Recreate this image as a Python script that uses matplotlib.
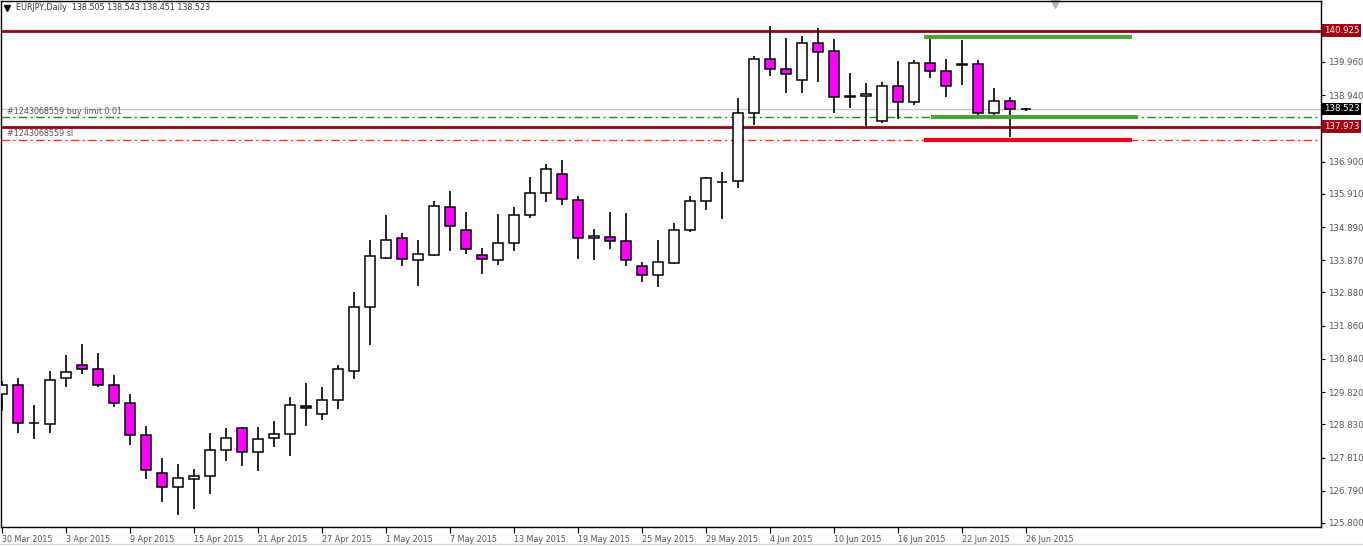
import numpy as np
import matplotlib
matplotlib.use('Agg')
import matplotlib.pyplot as plt
from matplotlib import transforms

# daily EURJPY candles, 30 Mar 2015 .. 26 Jun 2015
opens = [129.75, 130.03, 128.87, 128.83, 130.24, 130.64, 130.52, 130.03, 129.48, 128.49,
         127.33, 126.90, 127.14, 127.23, 128.03, 128.71, 127.97, 128.40, 128.52, 129.38,
         129.14, 129.57, 130.46, 132.43, 133.93, 134.54, 133.87, 134.02, 135.50, 134.79,
         134.02, 133.87, 134.39, 135.25, 135.93, 136.51, 135.71, 134.54, 134.58, 134.45,
         133.68, 133.41, 133.78, 134.79, 135.68, 136.27, 136.30, 138.38, 140.04, 139.73,
         139.40, 140.53, 140.29, 138.90, 138.91, 138.14, 139.21, 138.72, 139.92, 139.67,
         139.89, 139.89, 138.38, 138.75, 138.505]
highs = [130.16, 130.24, 129.42, 130.46, 130.95, 131.30, 131.01, 130.34, 129.76, 128.77,
         127.80, 127.61, 127.45, 128.56, 128.71, 128.74, 128.74, 128.92, 129.66, 130.09,
         129.97, 130.64, 132.89, 134.48, 135.25, 134.70, 134.48, 135.68, 135.99, 135.34,
         134.24, 135.28, 135.50, 136.42, 136.82, 136.94, 135.83, 134.82, 135.34, 135.31,
         133.81, 134.48, 135.00, 135.83, 136.42, 136.57, 138.85, 140.14, 141.06, 140.69,
         140.76, 140.99, 140.66, 139.61, 139.31, 139.34, 139.98, 140.01, 140.66, 140.04,
         140.63, 140.01, 139.15, 138.88, 138.543]
lows = [129.25, 128.57, 128.37, 128.57, 129.99, 130.39, 129.99, 129.37, 128.21, 127.16,
        126.45, 126.06, 126.24, 126.70, 127.71, 127.56, 127.41, 128.14, 127.85, 128.79,
        128.97, 129.31, 130.23, 131.28, 133.90, 133.68, 133.09, 133.99, 134.16, 134.05,
        133.46, 133.73, 134.16, 135.18, 135.67, 135.58, 133.92, 133.89, 134.21, 133.70,
        133.21, 133.06, 133.75, 134.73, 135.40, 135.13, 136.10, 138.02, 139.54, 139.02,
        139.02, 139.35, 138.40, 138.56, 137.99, 138.08, 138.22, 138.65, 139.48, 138.89,
        139.26, 138.20, 138.32, 137.65, 138.451]
closes = [130.03, 128.86, 128.86, 130.18, 130.43, 130.52, 130.03, 129.48, 128.49, 127.42,
          126.90, 127.17, 127.23, 128.03, 128.40, 127.97, 128.37, 128.52, 129.42, 129.32,
          129.57, 130.52, 132.43, 133.99, 134.48, 133.90, 134.05, 135.53, 134.91, 134.21,
          133.90, 134.39, 135.25, 135.93, 136.66, 135.74, 134.54, 134.61, 134.45, 133.87,
          133.41, 133.81, 134.79, 135.68, 136.39, 136.26, 138.38, 140.04, 139.73, 139.58,
          140.53, 140.28, 138.89, 138.88, 138.97, 139.21, 138.72, 139.92, 139.67, 139.21,
          139.87, 138.38, 138.75, 138.51, 138.523]

date_labels = ["30 Mar 2015", "3 Apr 2015", "9 Apr 2015", "15 Apr 2015", "21 Apr 2015",
               "27 Apr 2015", "1 May 2015", "7 May 2015", "13 May 2015", "19 May 2015",
               "25 May 2015", "29 May 2015", "4 Jun 2015", "10 Jun 2015", "16 Jun 2015",
               "22 Jun 2015", "26 Jun 2015"]
date_pos = list(range(0, 65, 4))

price_ticks = [125.800, 126.790, 127.810, 128.830, 129.820, 130.840, 131.860,
               132.880, 133.870, 134.890, 135.910, 136.900, 138.940, 139.960]

resistance = 140.925
support = 137.973
bid = 138.523
buy_limit = 138.26
stop_loss = 137.55
# trend segments (start bar, end bar, price)
green_top = (57.6, 70.6, 140.72)
green_low = (58.05, 71.0, 138.26)
red_low = (57.6, 70.6, 137.55)

plt.rcParams['font.family'] = 'DejaVu Sans'
fs = 5.8

fig = plt.figure(figsize=(13.63, 5.46), dpi=100)
ax = fig.add_axes([1 / 1363, 19 / 546, 1320 / 1363, 526 / 546])

o = np.array(opens)
c = np.array(closes)
x = np.arange(len(o))
ax.vlines(x, lows, highs, color='black', lw=1.2, zorder=3)
body_col = ['white' if cc >= oo else '#FF00FF' for oo, cc in zip(o, c)]
ax.bar(x, np.abs(c - o), bottom=np.minimum(o, c), width=0.62, color=body_col,
       edgecolor='black', linewidth=1.1, zorder=4)

# horizontal levels
ax.axhline(resistance, color='#A0000F', lw=2, zorder=2)
ax.axhline(support, color='#A0000F', lw=2, zorder=2)
ax.axhline(bid, color='#C8C8C8', lw=1, zorder=1)
ax.axhline(buy_limit, color='#1E8C1E', lw=1, ls=(0, (6, 2.5, 1.5, 2.5)), zorder=1)
ax.axhline(stop_loss, color='#FF3218', lw=1, ls=(0, (6, 2.5, 1.5, 2.5)), zorder=1)

for seg, col in [(green_top, '#4CA33C'), (green_low, '#4CA33C'), (red_low, '#F0001C')]:
    ax.plot([seg[0], seg[1]], [seg[2], seg[2]], color=col, lw=3, solid_capstyle='butt', zorder=5)

trans = transforms.blended_transform_factory(ax.transAxes, ax.transData)
ax.text(6 / 1320, 138.45, "#1243068559 buy limit 0.01", transform=trans,
        fontsize=fs, color='#555555', va='center')
ax.text(6 / 1320, 137.75, "#1243068559 sl", transform=trans,
        fontsize=fs, color='#555555', va='center')

# price labels on the right axis
for val, bg in [(resistance, '#A0000F'), (bid, 'black'), (support, '#A0000F')]:
    ax.text(1.0 + 3 / 1320, val, "%.3f" % val, transform=trans, fontsize=fs + 0.4,
            color='white', va='center', ha='left', clip_on=False,
            bbox=dict(boxstyle='square,pad=0.2', fc=bg, ec='none'))

ax.set_xlim(-0.08, 82.42)
ax.set_ylim(125.677, 141.832)

ax.yaxis.tick_right()
ax.set_yticks(price_ticks)
ax.set_yticklabels(["%.3f" % v for v in price_ticks])
ax.tick_params(axis='y', direction='out', length=3, width=0.8, labelsize=fs + 0.4,
               labelcolor='#555555', pad=2)

ax.set_xticks(date_pos)
ax.set_xticklabels(date_labels)
for lab in ax.get_xticklabels():
    lab.set_ha('left')
ax.tick_params(axis='x', direction='out', length=4, width=0.8, labelsize=fs,
               labelcolor='#555555', pad=2)

for sp in ax.spines.values():
    sp.set_color('black')
    sp.set_linewidth(1)

# header and markers
ax.plot([6 / 1320], [1 - 7 / 526], marker='v', color='black', markersize=4,
        transform=ax.transAxes, clip_on=False)
ax.text(15 / 1320, 1 - 7 / 526, "EURJPY,Daily  138.505 138.543 138.451 138.523",
        transform=ax.transAxes, fontsize=fs, color='#333333', va='center')
ax.plot([(1055 - 1) / 1320], [1 - 2 / 526], marker='v', color='#B4B4B4', markersize=7,
        transform=ax.transAxes, clip_on=False)

fig.add_artist(plt.Line2D([0, 1], [2 / 546, 2 / 546], color='#D8D8D8', lw=1,
                          transform=fig.transFigure))

fig.savefig('out.png', dpi=100)
